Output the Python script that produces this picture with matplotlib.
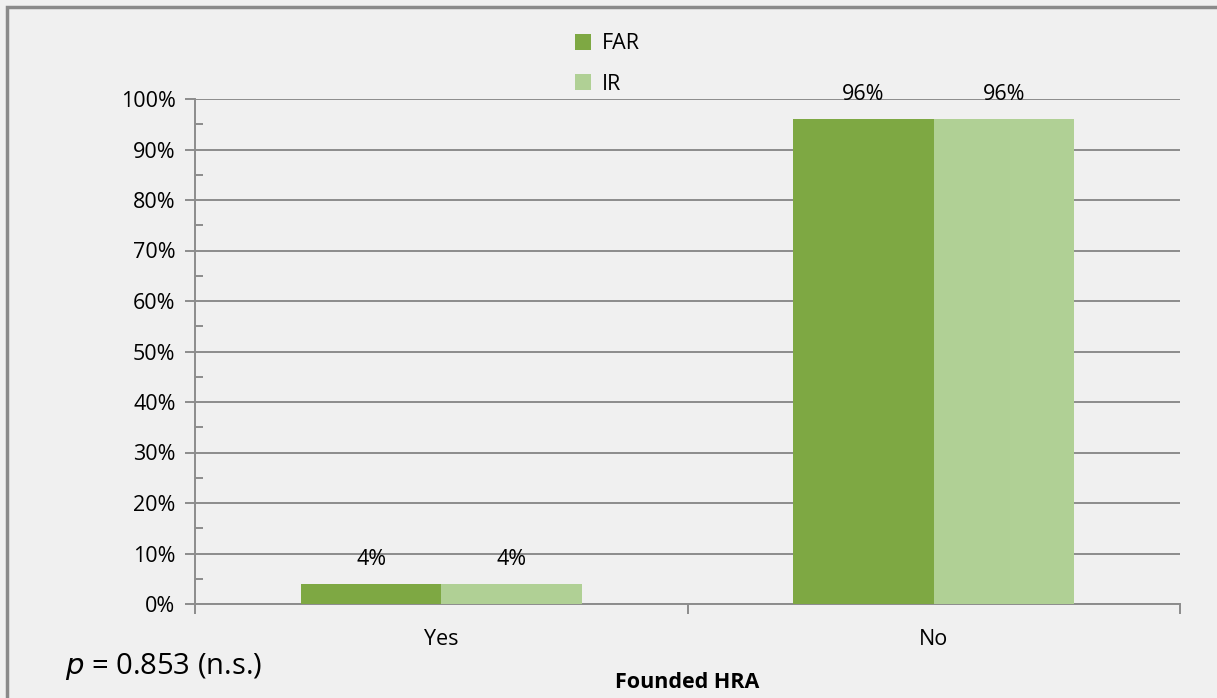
import numpy as np
import matplotlib.pyplot as plt
from matplotlib.patches import Rectangle
from matplotlib.ticker import MultipleLocator, PercentFormatter

categories = ['Yes', 'No']
far = [4, 96]
ir = [4, 96]
series_names = ['FAR', 'IR']

plt.rcParams['font.family'] = ['Open Sans', 'DejaVu Sans']

bg = '#F0F0F0'
grid_c = '#8C8C8C'
col_far = '#7EA843'
col_ir = '#B0D095'
fs = 15.5

fig = plt.figure(figsize=(12.17, 6.98), dpi=100, facecolor=bg)
W, H = 1217, 698
ax = fig.add_axes([195 / W, 1 - 604 / H, (1180 - 195) / W, (604 - 99) / H])
ax.set_facecolor(bg)

# outer frame (cut off at right and bottom in the original)
fig.patches.append(Rectangle((7 / W, -0.1), 1.2, 1 - 7 / H + 0.1, transform=fig.transFigure,
                             fill=False, edgecolor='#8A8A8A', linewidth=2.5))

x = np.arange(len(categories))
w = 0.285
b1 = ax.bar(x - w / 2, far, w, color=col_far, label=series_names[0], zorder=3)
b2 = ax.bar(x + w / 2, ir, w, color=col_ir, label=series_names[1], zorder=3)

for bars in (b1, b2):
    for r in bars:
        ax.text(r.get_x() + r.get_width() / 2, r.get_height() + 4.8, f'{r.get_height():.0f}%',
                ha='center', va='center', fontsize=fs, zorder=4)

ax.set_xlim(-0.5, 1.5)
ax.set_ylim(0, 100)
ax.yaxis.set_major_locator(MultipleLocator(10))
ax.yaxis.set_minor_locator(MultipleLocator(5))
ax.yaxis.set_major_formatter(PercentFormatter(decimals=0))
ax.grid(axis='y', which='major', color=grid_c, linewidth=1.4, zorder=1)

for s in ['top', 'right']:
    ax.spines[s].set_visible(False)
for s in ['left', 'bottom']:
    ax.spines[s].set_color(grid_c)
    ax.spines[s].set_linewidth(1.4)

ax.tick_params(axis='y', which='major', direction='out', length=7, width=1.4, color=grid_c,
               labelsize=fs, pad=7)
ax.tick_params(axis='y', which='minor', direction='in', length=6, width=1.4, color=grid_c)

ax.set_xticks(x)
ax.set_xticklabels(categories)
ax.tick_params(axis='x', which='major', length=0, labelsize=fs, pad=18)
ax.set_xticks([-0.5, 0.5, 1.5], minor=True)
ax.tick_params(axis='x', which='minor', direction='out', length=7, width=1.4, color=grid_c)

ax.set_xlabel('Founded HRA', fontsize=fs, fontweight='bold', labelpad=16)

fig.text(65 / W, 1 - 666 / H, r'$p$ = 0.853 (n.s.)', fontsize=21, va='center',
         math_fontfamily='dejavusans')

leg = ax.legend(loc='center', bbox_to_anchor=(607 / W, 1 - 64 / H), bbox_transform=fig.transFigure,
                frameon=False, fontsize=fs, handlelength=0.75, handleheight=0.75,
                labelspacing=0.9, handletextpad=0.5)

fig.savefig('out.png', dpi=100, facecolor=bg)
